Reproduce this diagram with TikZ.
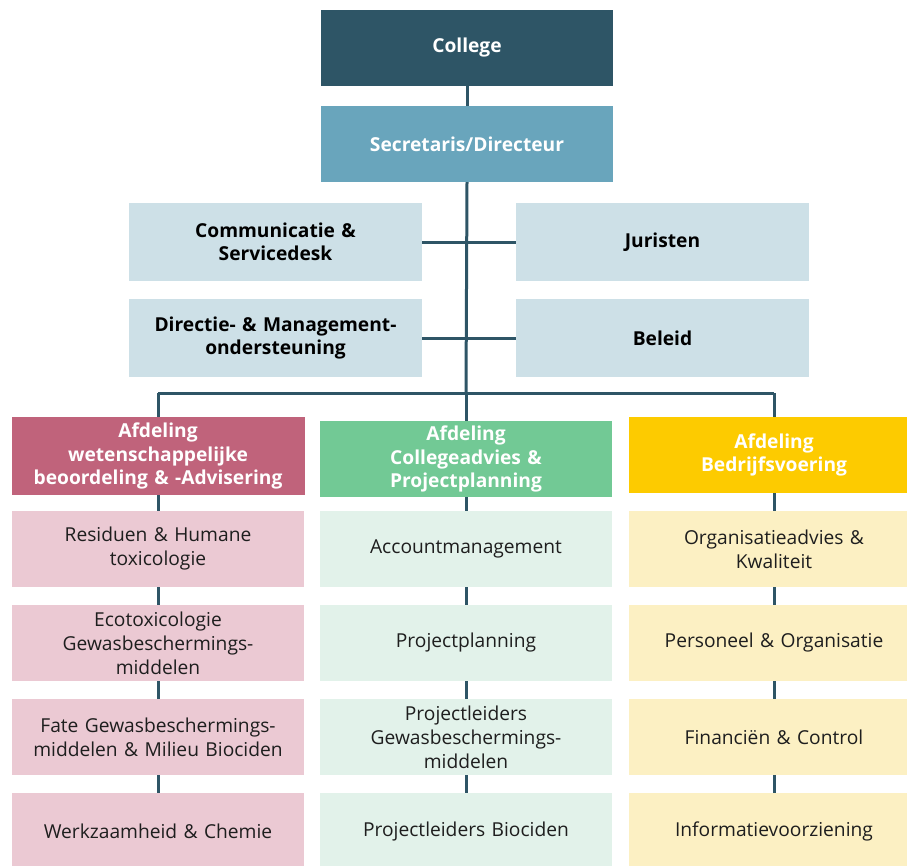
\documentclass[tikz,border=0pt]{standalone}
\usepackage{fontspec}
\setmainfont{Open Sans}
\definecolor{cdark}{HTML}{2E5566}
\definecolor{cmid}{HTML}{69A5BC}
\definecolor{clight}{HTML}{CDE0E7}
\definecolor{pinkH}{HTML}{C0637B}
\definecolor{pinkL}{HTML}{EBC9D3}
\definecolor{greenH}{HTML}{72C995}
\definecolor{greenL}{HTML}{E2F2EA}
\definecolor{yellowH}{HTML}{FDCB00}
\definecolor{yellowL}{HTML}{FCF0C3}
\definecolor{ctext}{HTML}{1E1E1E}
\begin{document}
\begin{tikzpicture}[x=1pt,y=-1pt,
  box/.style={rectangle,inner sep=2pt,align=center,minimum width=292pt,minimum height=76pt,text width=284pt},
  head/.style={box,text=white,font=\fontsize{19.2}{23.5}\selectfont\bfseries},
  mgmt/.style={box,fill=clight,text=black,minimum width=293pt,minimum height=78pt,font=\fontsize{19.2}{23.5}\selectfont\bfseries},
  sub/.style={box,text=ctext,font=\fontsize{19.2}{24}\selectfont},
  conn/.style={draw=cdark,line width=3pt}]
\useasboundingbox (0,0) rectangle (907,865);
% top
\node[head,fill=cdark] (college) at (467,48) {College};
\node[head,fill=cmid] (secr) at (467,144) {Secretaris/Directeur};
\node[mgmt] (comm) at (275.5,242) {Communicatie \&\\Servicedesk};
\node[mgmt] (jur) at (662.5,242) {Juristen};
\node[mgmt] (dir) at (275.5,338) {Directie- \& Management-\\ondersteuning};
\node[mgmt] (bel) at (662.5,338) {Beleid};
% departments
\node[head,fill=pinkH,minimum width=293pt,minimum height=78pt] (ph) at (158,456) {Afdeling\\wetenschappelijke\\beoordeling \& -Advisering};
\node[head,fill=greenH,minimum width=292pt,minimum height=76pt] (gh) at (466,459) {Afdeling\\Collegeadvies \&\\Projectplanning};
\node[head,fill=yellowH,minimum width=290pt,minimum height=76pt] (yh) at (774,455) {Afdeling\\Bedrijfsvoering};
% pink column
\node[sub,fill=pinkL] (p1) at (158,549) {Residuen \& Humane\\toxicologie};
\node[sub,fill=pinkL] (p2) at (158,643) {Ecotoxicologie\\Gewasbeschermings-\\middelen};
\node[sub,fill=pinkL] (p3) at (158,737) {Fate Gewasbeschermings-\\middelen \& Milieu Biociden};
\node[sub,fill=pinkL] (p4) at (158,831) {Werkzaamheid \& Chemie};
% green column
\node[sub,fill=greenL] (g1) at (466,549) {Accountmanagement};
\node[sub,fill=greenL] (g2) at (466,643) {Projectplanning};
\node[sub,fill=greenL] (g3) at (466,737) {Projectleiders\\Gewasbeschermings-\\middelen};
\node[sub,fill=greenL] (g4) at (466,831) {Projectleiders Biociden};
% yellow column
\node[sub,fill=yellowL,minimum width=290pt] (y1) at (774,549) {Organisatieadvies \&\\Kwaliteit};
\node[sub,fill=yellowL,minimum width=290pt] (y2) at (774,643) {Personeel \& Organisatie};
\node[sub,fill=yellowL,minimum width=290pt] (y3) at (774,737) {Financiën \& Control};
\node[sub,fill=yellowL,minimum width=290pt] (y4) at (774,831) {Informatievoorziening};
% connectors
\coordinate (busL) at (158,393);
\coordinate (busM) at (466,393);
\coordinate (busR) at (774,393);
\draw[conn] (college) -- (secr);
\draw[conn] (secr.south) -- (busM);
\draw[conn] (comm.east) -- (jur.west);
\draw[conn] (dir.east) -- (bel.west);
\draw[conn] (busL) -- (busR);
\draw[conn] (busL) -- (ph.north);
\draw[conn] (busM) -- (gh.north);
\draw[conn] (busR) -- (yh.north);
\draw[conn] (ph) -- (p1);
\draw[conn] (p1) -- (p2);
\draw[conn] (p2) -- (p3);
\draw[conn] (p3) -- (p4);
\draw[conn] (gh) -- (g1);
\draw[conn] (g1) -- (g2);
\draw[conn] (g2) -- (g3);
\draw[conn] (g3) -- (g4);
\draw[conn] (yh) -- (y1);
\draw[conn] (y1) -- (y2);
\draw[conn] (y2) -- (y3);
\draw[conn] (y3) -- (y4);
\end{tikzpicture}
\end{document}
